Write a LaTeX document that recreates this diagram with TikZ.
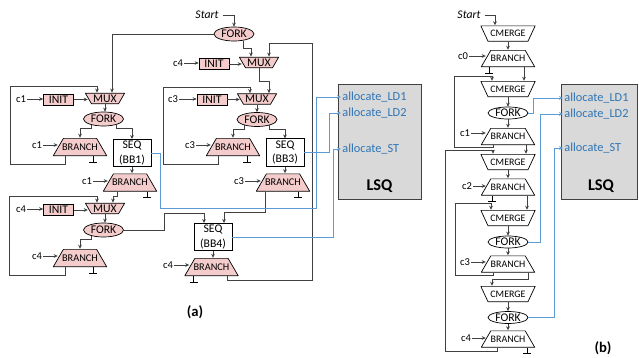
\documentclass[tikz,border=0pt]{standalone}
\usepackage{fontspec}
\setmainfont{Carlito}
\usepackage{tikz}
\usetikzlibrary{shapes.geometric}
\usetikzlibrary{arrows.meta}
\usetikzlibrary{calc}

\definecolor{opfill}{RGB}{244,204,204}
\definecolor{lsqfill}{RGB}{217,217,217}
\definecolor{memline}{RGB}{91,155,213}
\definecolor{memtext}{RGB}{46,117,182}
\definecolor{wirecol}{RGB}{64,64,64}

% trapezium drawn inside the node box: #1 inset at top, #2 inset at bottom, #3 fill
\newcommand{\trapez}[3]{%
  \draw[line width=0.6pt, fill=#3]
    ([shift={(#2,0.3pt)}]path picture bounding box.south west) --
    ([shift={(-#2,0.3pt)}]path picture bounding box.south east) --
    ([shift={(-#1,-0.3pt)}]path picture bounding box.north east) --
    ([shift={(#1,-0.3pt)}]path picture bounding box.north west) -- cycle;}

\tikzstyle{init} = [rectangle, draw, line width=0.6pt, fill=opfill, minimum width=9mm, minimum height=3.3mm, inner sep=0pt, font=\fontsize{10}{12}\selectfont]
\tikzstyle{mux} = [rectangle, minimum width=12mm, minimum height=3.4mm, inner sep=0pt, font=\fontsize{10}{12}\selectfont, path picture={\trapez{0.3pt}{1.95mm}{opfill}}]
\tikzstyle{cmerge} = [rectangle, minimum width=16.5mm, minimum height=4.8mm, inner sep=0pt, font=\fontsize{8.5}{10}\selectfont, path picture={\trapez{0.3pt}{2.24mm}{white}}]
\tikzstyle{fork} = [ellipse, draw, line width=0.6pt, fill=opfill, minimum width=12mm, minimum height=4.2mm, inner sep=0pt, font=\fontsize{10}{12}\selectfont]
\tikzstyle{forkB} = [fork, fill=white, minimum height=3.6mm]
\tikzstyle{branch} = [rectangle, minimum width=16.2mm, minimum height=5.4mm, inner sep=0pt, font=\fontsize{8.8}{10}\selectfont, path picture={\trapez{3.12mm}{0.3pt}{opfill}}]
\tikzstyle{branchB} = [rectangle, minimum width=16.2mm, minimum height=5.1mm, inner sep=0pt, font=\fontsize{8.5}{10}\selectfont, path picture={\trapez{2.94mm}{0.3pt}{white}}]
\tikzstyle{seq} = [rectangle, draw, line width=0.6pt, fill=white, align=center, minimum width=11.4mm, minimum height=8.2mm, inner sep=0pt, font=\fontsize{10}{12}\selectfont]
\tikzstyle{cond} = [inner sep=1pt, font=\fontsize{9}{10}\selectfont]
\tikzstyle{port} = [anchor=west, inner sep=1pt, text=memtext, font=\fontsize{10.5}{12}\selectfont]
\tikzstyle{lsq} = [rectangle, draw=wirecol, line width=0.6pt, fill=lsqfill, minimum width=24.9mm, minimum height=34.5mm]
\tikzstyle{flow} = [draw=wirecol, line width=0.7pt, ->]
\tikzstyle{mem} = [draw=memline, line width=0.7pt, ->]

\tikzset{sink/.pic={\draw[line width=0.6pt] (0,0) -- (0,6) (-4,6) -- (4,6);}}

\begin{document}
\begin{tikzpicture}[x=0.3mm, y=-0.3mm, >={Stealth[length=1.2mm,width=1.1mm]}]
\useasboundingbox (0,0) rectangle (639,358);

% ---------- (a) ----------
\node[font=\itshape\fontsize{10}{12}\selectfont] (startA) at (207,15) {Start};
\node[fork] (forkA) at (234,34) {FORK};
\node[cond] (cA4) at (178,63) {c4};
\node[init] (initA4) at (214,64) {INIT};
\node[mux] (muxA4) at (259,62.5) {MUX};

% inner loop on c3
\node[cond] (cA3) at (173,99) {c3};
\node[init] (initA3) at (212,99.5) {INIT};
\node[mux] (muxA3) at (257,99) {MUX};
\node[fork] (forkA3) at (257,119.5) {FORK};
\node[cond] (cA3b) at (190,145) {c3};
\node[branch] (brA3) at (233,147) {BRANCH};
\node[seq] (seqA3) at (285,152.5) {SEQ\\(BB3)};
\node[cond] (cA3c) at (239,181) {c3};
\node[branch] (brA3b) at (283,182.5) {BRANCH};

% loop on c1
\node[cond] (cA1) at (21,99) {c1};
\node[init] (initA1) at (58.5,99.5) {INIT};
\node[mux] (muxA1) at (105,98.5) {MUX};
\node[fork] (forkA1) at (103.5,119) {FORK};
\node[cond] (cA1b) at (37,145) {c1};
\node[branch] (brA1) at (80,147) {BRANCH};
\node[seq] (seqA1) at (132,153) {SEQ\\(BB1)};
\node[cond] (cA1c) at (87,181) {c1};
\node[branch] (brA1b) at (130,182.5) {BRANCH};

% loop on c4
\node[cond] (cA4b) at (21,209) {c4};
\node[init] (initA4b) at (58.5,210) {INIT};
\node[mux] (muxA4b) at (105,208.5) {MUX};
\node[fork] (forkA4) at (103.5,230) {FORK};
\node[cond] (cA4c) at (37,256) {c4};
\node[branch] (brA4) at (80,258) {BRANCH};
\node[seq] (seqA4) at (213,237) {SEQ\\(BB4)};
\node[cond] (cA4d) at (168,265) {c4};
\node[branch] (brA4b) at (211.5,267) {BRANCH};

\node[lsq] (lsqA) at (379.5,141.5) {};
\node[port] (ldA1) at (341,97) {allocate\_LD1};
\node[port] (ldA2) at (341,113) {allocate\_LD2};
\node[port] (stA) at (341,149) {allocate\_ST};
\node[font=\bfseries\fontsize{14}{16}\selectfont] (lsqAname) at (379.5,186) {LSQ};
\node[font=\bfseries\fontsize{12.5}{14}\selectfont] (capA) at (195,312) {(a)};

\pic at ($(brA3.south)+(14,0)$) {sink};
\pic at ($(brA3b.south)+(15,0)$) {sink};
\pic at ($(brA1.south)+(13,0)$) {sink};
\pic at ($(brA1b.south)+(17,0)$) {sink};
\pic at ($(brA4.south)+(13,0)$) {sink};
\pic at ($(brA4b.south)+(-18,0)$) {sink};

\draw[flow] (startA.east) -| (forkA.north);
\draw[flow] (forkA.west) -| ($(muxA1.north)+(7,0)$);
\draw[flow] (forkA.-35) -- ++(0,8) -| ($(muxA4.north)+(-8,0)$);
\draw[flow] (cA4) -- (cA4 -| initA4.west);
\draw[flow] (initA4) -- ($(initA4 -| muxA4.west)+(3,0)$);
\draw[flow] (muxA4.south) -- ++(0,13) -| ($(muxA3.north)+(12,0)$);
\draw[flow] (cA3) -- (cA3 -| initA3.west);
\draw[flow] (initA3) -- ($(initA3 -| muxA3.west)+(3,0)$);
\draw[flow] (muxA3) -- (forkA3);
\draw[flow] (forkA3.-155) -- ++(0,4) -| (brA3.north);
\draw[flow] (forkA3.-25) -- ++(0,4) -| (seqA3.north);
\draw[flow] (cA3b) -- ($(cA3b -| brA3.west)+(5,0)$);
\draw[flow] ($(brA3.south)+(-15,0)$) -- ++(0,8) -- ++(-55,0) |- ($(muxA3.north)+(-7,-6)$) -- ($(muxA3.north)+(-7,0)$);
\draw[flow] (seqA3.south) -- (seqA3.south |- brA3b.north);
\draw[flow] (cA3c) -- ($(cA3c -| brA3b.west)+(5,0)$);
\draw[flow] ($(brA3b.south)+(-18,0)$) -- ++(0,21) -| ($(seqA4.north)+(11,0)$);

\draw[flow] (cA1) -- (cA1 -| initA1.west);
\draw[flow] (initA1) -- ($(initA1 -| muxA1.west)+(3,0)$);
\draw[flow] (muxA1.south) -- (muxA1.south |- forkA1.north);
\draw[flow] (forkA1.-155) -- ++(0,4) -| (brA1.north);
\draw[flow] (forkA1.-25) -- ++(0,4) -| (seqA1.north);
\draw[flow] (cA1b) -- ($(cA1b -| brA1.west)+(5,0)$);
\draw[flow] ($(brA1.south)+(-15,0)$) -- ++(0,8) -- ++(-55,0) |- ($(muxA1.north)+(-8,-6)$) -- ($(muxA1.north)+(-8,0)$);
\draw[flow] (seqA1.south) -- (seqA1.south |- brA1b.north);
\draw[flow] (cA1c) -- ($(cA1c -| brA1b.west)+(5,0)$);
\draw[flow] ($(brA1b.south)+(-13,0)$) -- ++(0,5) -| ($(muxA4b.north)+(8,0)$);

\draw[flow] (cA4b) -- (cA4b -| initA4b.west);
\draw[flow] (initA4b) -- ($(initA4b -| muxA4b.west)+(3,0)$);
\draw[flow] ($(brA4.south)+(-15,0)$) -- ++(0,8) -- ++(-56,0) |- ($(muxA4b.north)+(-8,-6)$) -- ($(muxA4b.north)+(-8,0)$);
\draw[flow] (muxA4b.south) -- (muxA4b.south |- forkA4.north);
\draw[flow] (forkA4.-155) -- ++(0,4) -| (brA4.north);
\draw[flow] (cA4c) -- ($(cA4c -| brA4.west)+(5,0)$);
\draw[flow] (forkA4.east) -- ++(41,0) |- ($(seqA4.north)+(-9,-10)$) -- ($(seqA4.north)+(-9,0)$);
\draw[flow] (seqA4.south) -- (seqA4.south |- brA4b.north);
\draw[flow] (cA4d) -- ($(cA4d -| brA4b.west)+(5,0)$);
\draw[flow] ($(brA4b.south)+(16,0)$) -- ++(0,4) -- ++(85,0) |- ($(muxA4.north)+(10,-13)$) -- ($(muxA4.north)+(10,0)$);

\draw[mem] (seqA1.east) -- ++(9,0) |- ($(ldA1.west)+(-25,111)$) |- (ldA1.west);
\draw[mem] (seqA3.east) -| ($(ldA2.west)+(-12,0)$) -- (ldA2.west);
\draw[mem] (seqA4.east) -| ($(stA.west)+(-8,0)$) -- (stA.west);

% ---------- (b) ----------
\node[font=\itshape\fontsize{10}{12}\selectfont] (startB) at (469,15) {Start};
\node[cmerge] (cm1) at (508,33.5) {CMERGE};
\node[cond] (cB0) at (463,56) {c0};
\node[branchB] (brB0) at (508,58.5) {BRANCH};
\node[cmerge] (cm2) at (508,89) {CMERGE};
\node[forkB] (forkB1) at (508,113) {FORK};
\node[cond] (cB1) at (465,133) {c1};
\node[branchB] (brB1) at (508,136.5) {BRANCH};
\node[cmerge] (cm3) at (508,162) {CMERGE};
\node[cond] (cB2) at (467,186) {c2};
\node[branchB] (brB2) at (508,187) {BRANCH};
\node[cmerge] (cm4) at (508,218) {CMERGE};
\node[forkB] (forkB2) at (508,242) {FORK};
\node[cond] (cB3) at (465,262) {c3};
\node[branchB] (brB3) at (508,264) {BRANCH};
\node[cmerge] (cm5) at (508,294) {CMERGE};
\node[forkB] (forkB3) at (508,317.5) {FORK};
\node[cond] (cB4) at (466,338) {c4};
\node[branchB] (brB4) at (508,339) {BRANCH};

\node[lsq, minimum width=22.8mm] (lsqB) at (599,141.5) {};
\node[port] (ldB1) at (563,98) {allocate\_LD1};
\node[port] (ldB2) at (563,114) {allocate\_LD2};
\node[port] (stB) at (563,148) {allocate\_ST};
\node[font=\bfseries\fontsize{14}{16}\selectfont] (lsqBname) at (601,186) {LSQ};
\node[font=\bfseries\fontsize{12.5}{14}\selectfont] (capB) at (603,348) {(b)};

\pic at ($(brB0.south)+(-19,0)$) {sink};
\pic at ($(brB2.south)+(-16,0)$) {sink};
\pic at ($(brB4.south)+(19,0)$) {sink};

\draw[flow] (startB.east) -| ($(cm1.north)+(-13,0)$);
\draw[flow] (cm1) -- (brB0);
\draw[flow] (cB0) -- ($(cB0 -| brB0.west)+(5,0)$);
\draw[flow] ($(brB0.south)+(16,0)$) -- ($(cm2.north)+(16,0)$);
\draw[flow] ($(brB1.south)+(-15,0)$) -- ++(0,2) -- ++(-39,0) |- ($(cm2.north)+(-16,-4)$) -- ($(cm2.north)+(-16,0)$);
\draw[flow] (cm2) -- (forkB1);
\draw[flow] (forkB1) -- (brB1);
\draw[flow] (cB1) -- ($(cB1 -| brB1.west)+(5,0)$);
\draw[flow] ($(brB1.south)+(18,0)$) -- ($(cm3.north)+(18,0)$);
\draw[flow] ($(brB4.south)+(-11,0)$) -- ++(0,4) -- ++(-52,0) |- ($(cm3.north)+(-15,-3)$) -- ($(cm3.north)+(-15,0)$);
\draw[flow] (cm3) -- (brB2);
\draw[flow] (cB2) -- ($(cB2 -| brB2.west)+(5,0)$);
\draw[flow] ($(brB2.south)+(19,0)$) -- ($(cm4.north)+(19,0)$);
\draw[flow] ($(brB3.south)+(-15,0)$) -- ++(0,3) -- ++(-38,0) |- ($(cm4.north)+(-17,-6)$) -- ($(cm4.north)+(-17,0)$);
\draw[flow] (cm4) -- (forkB2);
\draw[flow] (forkB2) -- (brB3);
\draw[flow] (cB3) -- ($(cB3 -| brB3.west)+(5,0)$);
\draw[flow] ($(brB3.south)+(20,0)$) -- ++(0,7) -| ($(cm5.north)+(-16,0)$);
\draw[flow] (cm5) -- (forkB3);
\draw[flow] (forkB3) -- (brB4);
\draw[flow] (cB4) -- ($(cB4 -| brB4.west)+(5,0)$);

\draw[mem] (forkB1.east) -- ++(5,0) |- (ldB1.west);
\draw[mem] (forkB2.east) -- ++(12,0) |- (ldB2.west);
\draw[mem] (forkB3.east) -- ++(26,0) |- (stB.west);
\end{tikzpicture}
\end{document}
